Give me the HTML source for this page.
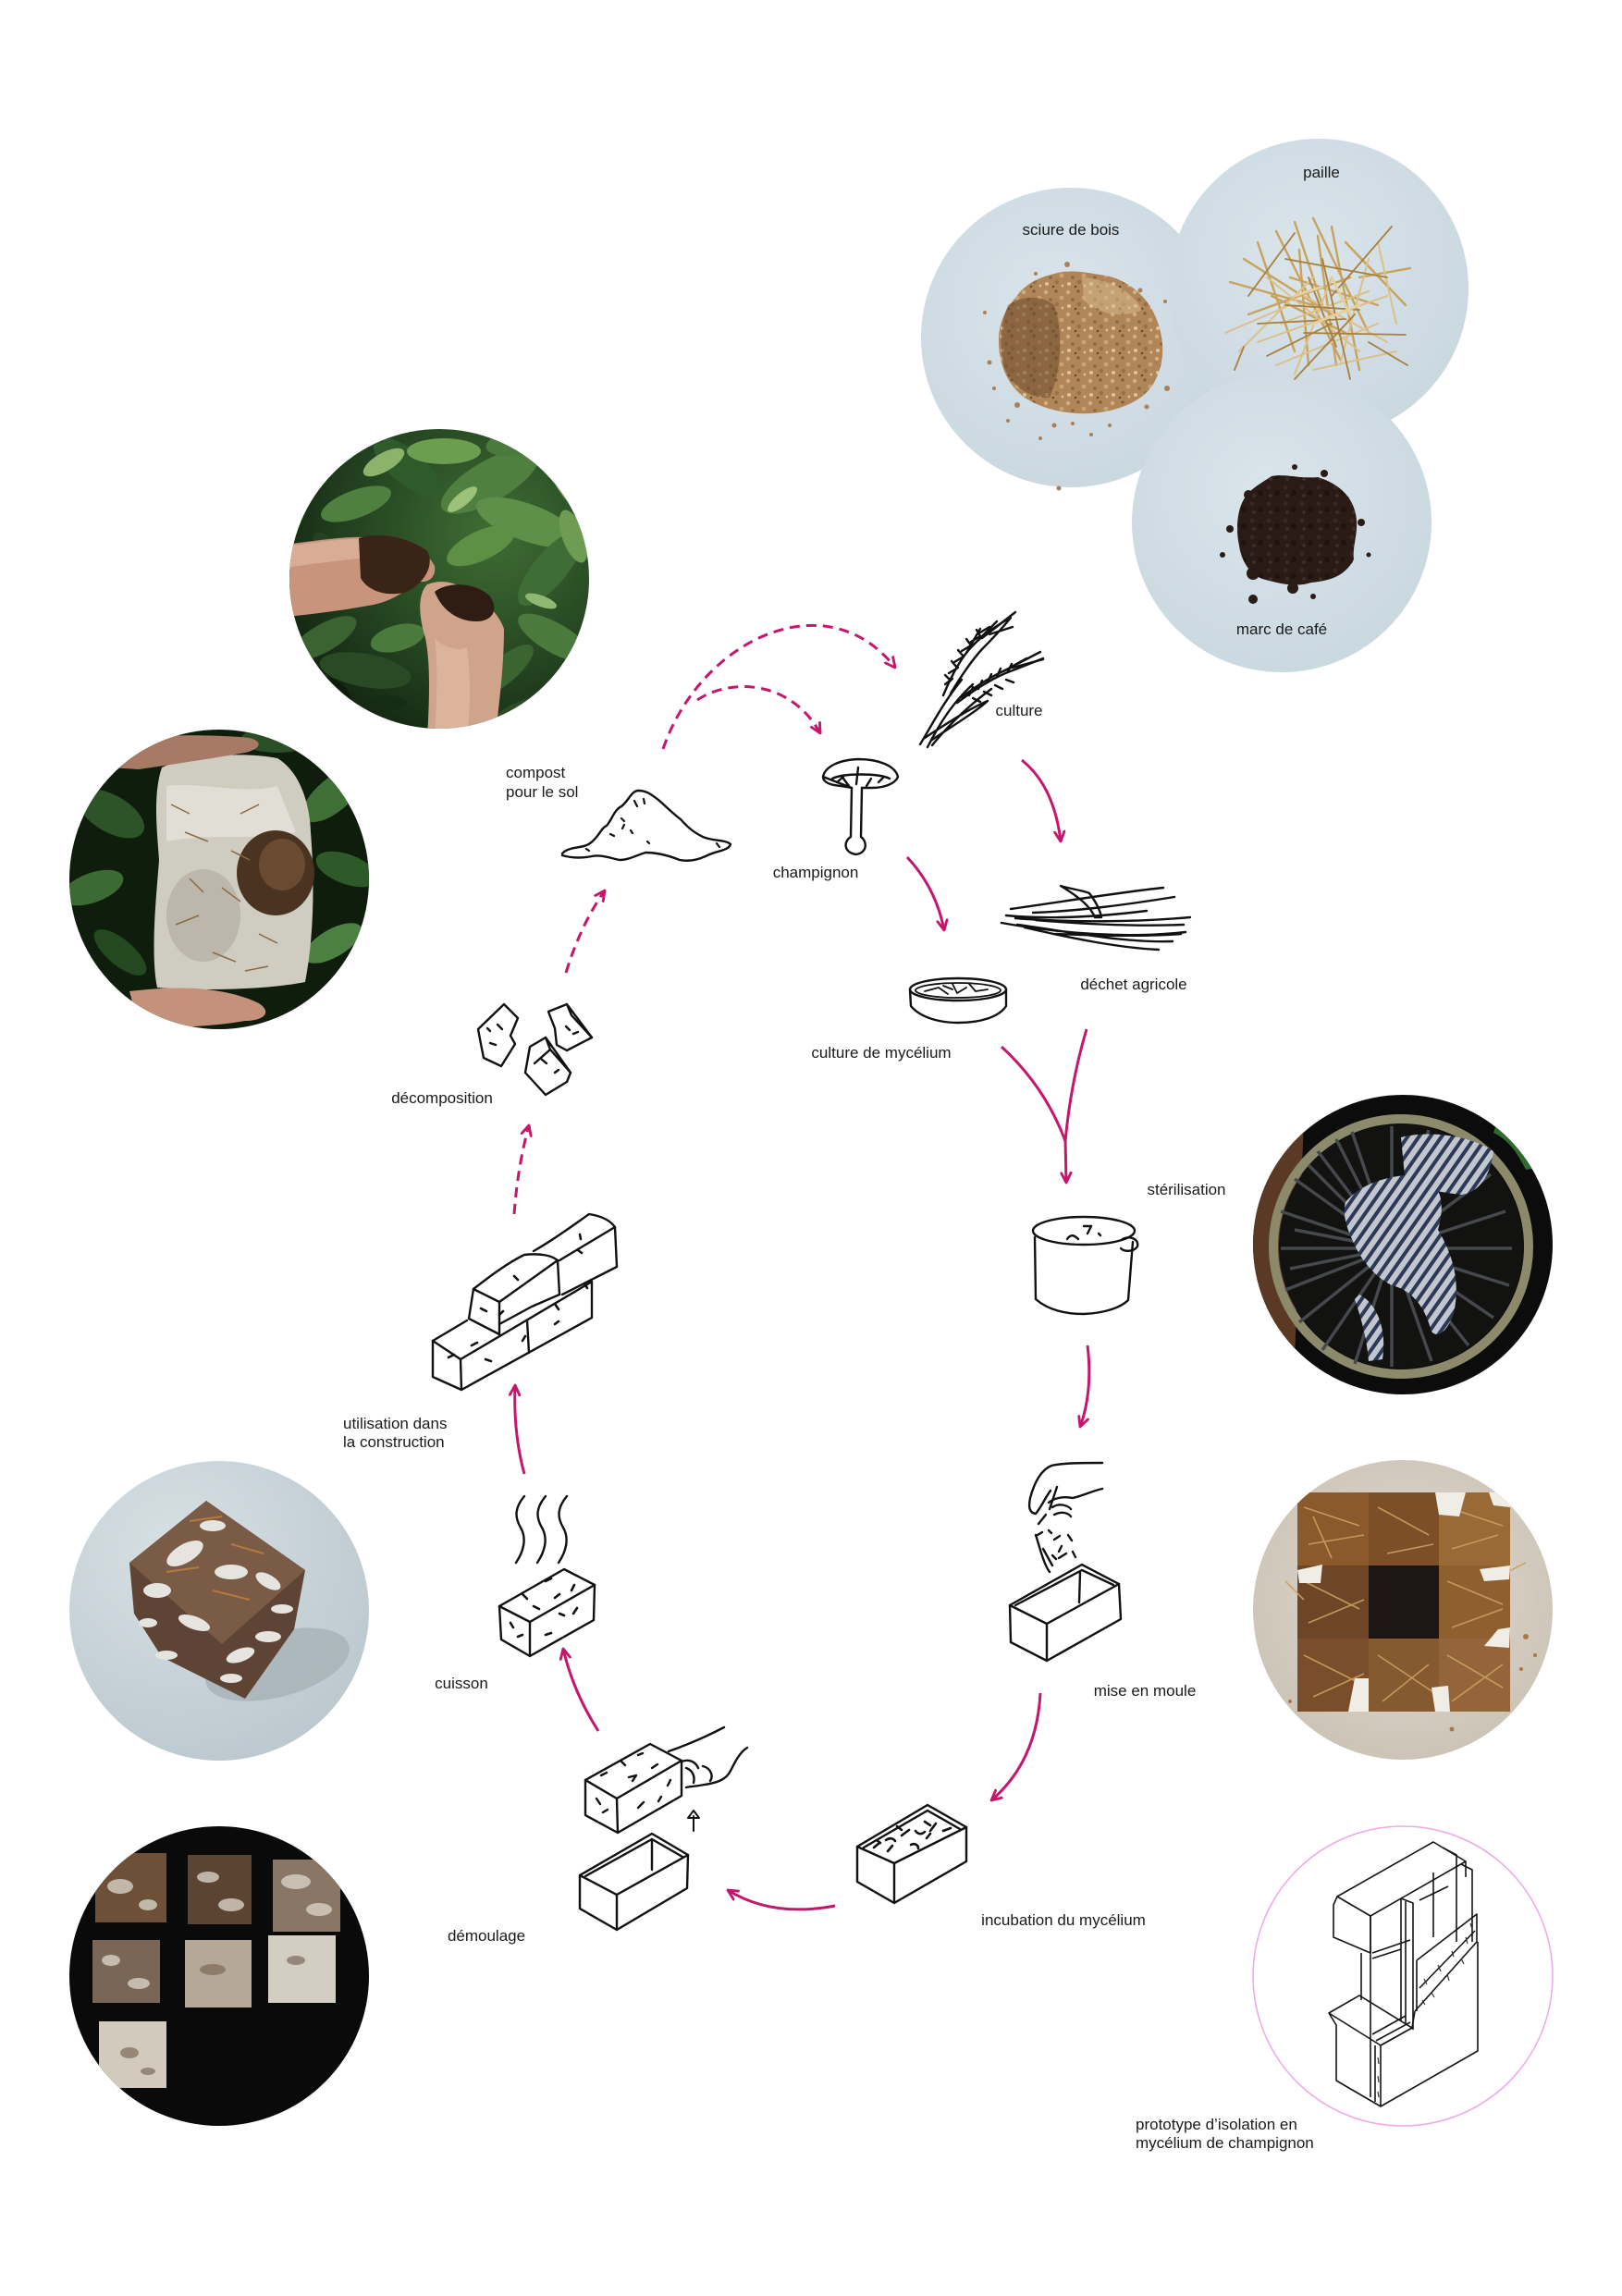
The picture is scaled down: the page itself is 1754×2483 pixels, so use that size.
<!DOCTYPE html>
<html><head><meta charset="utf-8"><style>
html,body{margin:0;padding:0;background:#fff;}
svg{display:block;}
text{font-family:"Liberation Sans",Arial,sans-serif;font-size:17px;fill:#1a1a1a;}
</style></head><body>
<svg width="1754" height="2483" viewBox="0 0 1754 2483" xmlns="http://www.w3.org/2000/svg">
<defs>
<marker id="ah" viewBox="0 0 10 10" refX="9" refY="5" markerWidth="13" markerHeight="13" orient="auto" markerUnits="userSpaceOnUse">
<path d="M0.5,0.8 L9,5 L0.5,9.2" fill="none" stroke="#c6166c" stroke-width="2.2" stroke-linecap="round" stroke-linejoin="round"/>
</marker>
<radialGradient id="blueg" cx="0.45" cy="0.4" r="0.65"><stop offset="0" stop-color="#dae5eb"/><stop offset="1" stop-color="#c9d7df"/></radialGradient>
<radialGradient id="cubeg" cx="0.35" cy="0.3" r="0.8"><stop offset="0" stop-color="#d7e0e4"/><stop offset="1" stop-color="#b9c6cd"/></radialGradient>
<radialGradient id="woodg" cx="0.5" cy="0.45" r="0.65"><stop offset="0" stop-color="#e2dcd2"/><stop offset="1" stop-color="#c7beb0"/></radialGradient>
<radialGradient id="leafg" cx="0.65" cy="0.35" r="0.75"><stop offset="0" stop-color="#3f6e34"/><stop offset="0.6" stop-color="#22401f"/><stop offset="1" stop-color="#0f1e0d"/></radialGradient>
<pattern id="stripes" width="10" height="10" patternUnits="userSpaceOnUse" patternTransform="rotate(35)">
<rect width="10" height="10" fill="#c2c7cf"/><rect width="4" height="10" fill="#2c3a57"/></pattern>
<pattern id="grain" width="24" height="24" patternUnits="userSpaceOnUse">
<rect width="24" height="24" fill="#b08659"/>
<circle cx="3" cy="4" r="2.2" fill="#d2ae82"/><circle cx="14" cy="3" r="1.6" fill="#7e5838"/><circle cx="20" cy="10" r="2.4" fill="#caa273"/><circle cx="8" cy="12" r="1.8" fill="#8d6643"/><circle cx="4" cy="19" r="2" fill="#e0c39c"/><circle cx="15" cy="17" r="2.3" fill="#9a7048"/><circle cx="21" cy="21" r="1.5" fill="#d8b88e"/><circle cx="11" cy="22" r="1.3" fill="#6e4a2e"/></pattern>
<pattern id="coffee" width="18" height="18" patternUnits="userSpaceOnUse">
<rect width="18" height="18" fill="#2a1b16"/><circle cx="4" cy="5" r="2.5" fill="#3a2820"/><circle cx="13" cy="11" r="3" fill="#1e130f"/><circle cx="6" cy="14" r="1.8" fill="#40302a"/></pattern>
<clipPath id="cA"><circle cx="475" cy="626" r="162"/></clipPath>
<clipPath id="cB"><circle cx="237" cy="951" r="162"/></clipPath>
<clipPath id="cC"><circle cx="1517" cy="1346" r="162"/></clipPath>
<clipPath id="cD"><circle cx="1517" cy="1741" r="162"/></clipPath>
<clipPath id="cE"><circle cx="237" cy="1742" r="162"/></clipPath>
<clipPath id="cF"><circle cx="237" cy="2137" r="162"/></clipPath>
</defs>

<rect width="1754" height="2483" fill="#fff"/>

<!-- ===== top right material circles ===== -->
<circle cx="1158" cy="365" r="162" fill="url(#blueg)"/>
<circle cx="1426" cy="312" r="162" fill="url(#blueg)"/>
<circle cx="1386" cy="565" r="162" fill="url(#blueg)"/>
<!-- sciure -->
<g>
<path d="M1098,322 C1110,305 1125,300 1140,296 C1160,290 1178,296 1196,298 C1215,302 1235,315 1246,335 C1258,358 1262,385 1250,410 C1240,432 1215,442 1190,446 C1160,450 1130,444 1108,430 C1088,415 1080,392 1080,368 C1080,348 1088,334 1098,322Z" fill="url(#grain)"/>
<path d="M1090,330 C1105,320 1125,318 1140,330 C1150,360 1148,400 1135,430 C1115,432 1095,418 1086,398 C1080,375 1082,350 1090,330Z" fill="#6f4a2d" opacity="0.55"/>
<path d="M1170,300 C1200,302 1225,315 1235,335 C1215,345 1190,340 1172,325Z" fill="#d9bb92" opacity="0.5"/>
<g fill="#a9805a">
<circle cx="1154" cy="286" r="3"/><circle cx="1120" cy="296" r="2"/><circle cx="1233" cy="314" r="2.5"/><circle cx="1260" cy="326" r="2"/><circle cx="1065" cy="338" r="2"/><circle cx="1070" cy="392" r="2.5"/><circle cx="1100" cy="438" r="3"/><circle cx="1140" cy="460" r="2.5"/><circle cx="1180" cy="470" r="2"/><circle cx="1125" cy="474" r="2"/><circle cx="1145" cy="528" r="2.5"/><circle cx="1200" cy="460" r="2"/><circle cx="1262" cy="420" r="3"/><circle cx="1250" cy="392" r="2"/><circle cx="1090" cy="455" r="2"/><circle cx="1075" cy="420" r="2"/><circle cx="1240" cy="440" r="2.5"/><circle cx="1160" cy="458" r="2"/></g>
</g>
<!-- paille -->
<g stroke-linecap="round" fill="none">
<g stroke="#c8a35e" stroke-width="2.4">
<line x1="1330" y1="305" x2="1420" y2="330"/><line x1="1345" y1="280" x2="1440" y2="340"/><line x1="1360" y1="262" x2="1400" y2="380"/><line x1="1380" y1="250" x2="1450" y2="390"/><line x1="1400" y1="240" x2="1430" y2="330"/><line x1="1420" y1="236" x2="1480" y2="360"/><line x1="1440" y1="245" x2="1470" y2="400"/><line x1="1455" y1="262" x2="1520" y2="330"/><line x1="1470" y1="300" x2="1525" y2="290"/><line x1="1350" y1="340" x2="1460" y2="300"/>
<line x1="1375" y1="320" x2="1455" y2="360"/><line x1="1395" y1="300" x2="1490" y2="330"/><line x1="1405" y1="270" x2="1415" y2="395"/><line x1="1425" y1="255" x2="1445" y2="395"/>
</g>
<g stroke="#dcc08a" stroke-width="2">
<line x1="1360" y1="370" x2="1500" y2="320"/><line x1="1380" y1="395" x2="1490" y2="350"/><line x1="1340" y1="380" x2="1420" y2="300"/><line x1="1400" y1="405" x2="1440" y2="300"/><line x1="1420" y1="400" x2="1510" y2="380"/><line x1="1450" y1="390" x2="1480" y2="280"/><line x1="1325" y1="360" x2="1395" y2="330"/><line x1="1490" y1="262" x2="1510" y2="350"/><line x1="1370" y1="300" x2="1470" y2="380"/><line x1="1385" y1="350" x2="1480" y2="315"/><line x1="1410" y1="320" x2="1500" y2="370"/>
</g>
<g stroke="#a7803f" stroke-width="1.8">
<line x1="1390" y1="280" x2="1500" y2="300"/><line x1="1410" y1="360" x2="1520" y2="362"/><line x1="1350" y1="320" x2="1400" y2="252"/><line x1="1430" y1="280" x2="1460" y2="410"/><line x1="1465" y1="340" x2="1400" y2="410"/><line x1="1480" y1="370" x2="1522" y2="395"/><line x1="1360" y1="350" x2="1455" y2="345"/><line x1="1440" y1="320" x2="1505" y2="245"/><line x1="1335" y1="400" x2="1345" y2="375"/><line x1="1390" y1="330" x2="1470" y2="335"/><line x1="1415" y1="300" x2="1445" y2="375"/><line x1="1370" y1="385" x2="1440" y2="350"/>
</g>
<g stroke="#e6cf9c" stroke-width="3">
<line x1="1440" y1="300" x2="1460" y2="340"/><line x1="1400" y1="320" x2="1430" y2="310"/><line x1="1420" y1="350" x2="1470" y2="330"/>
</g>
</g>
<!-- marc -->
<g fill="#2a1b16">
<path d="M1345,540 C1352,528 1365,522 1375,515 C1390,512 1405,518 1425,516 C1445,522 1462,535 1466,556 C1470,575 1462,590 1464,605 C1455,622 1440,628 1418,630 C1400,636 1380,630 1365,626 C1350,620 1342,605 1340,590 C1336,572 1338,552 1345,540Z" fill="url(#coffee)"/>
<circle cx="1355" cy="620" r="7"/><circle cx="1398" cy="636" r="6"/><circle cx="1458" cy="606" r="5"/><circle cx="1472" cy="565" r="4"/><circle cx="1330" cy="572" r="4"/><circle cx="1355" cy="648" r="5"/><circle cx="1420" cy="645" r="3"/><circle cx="1432" cy="512" r="4"/><circle cx="1400" cy="505" r="3"/><circle cx="1480" cy="600" r="2.5"/><circle cx="1322" cy="600" r="3"/><circle cx="1350" cy="535" r="5"/><circle cx="1455" cy="540" r="4"/>
</g>
<text x="1158" y="254" text-anchor="middle">sciure de bois</text>
<text x="1429" y="192" text-anchor="middle">paille</text>
<text x="1386" y="686" text-anchor="middle">marc de café</text>

<!-- ===== Photo A: hands with soil & leaves ===== -->
<g clip-path="url(#cA)">
<rect x="300" y="450" width="360" height="360" fill="url(#leafg)"/>
<g>
<ellipse cx="530" cy="520" rx="60" ry="22" transform="rotate(-30 530 520)" fill="#4f8040"/>
<ellipse cx="570" cy="565" rx="58" ry="20" transform="rotate(20 570 565)" fill="#5f904a"/>
<ellipse cx="595" cy="615" rx="50" ry="18" transform="rotate(-50 595 615)" fill="#3e6e35"/>
<ellipse cx="440" cy="505" rx="45" ry="18" transform="rotate(40 440 505)" fill="#2f5a2a"/>
<ellipse cx="385" cy="545" rx="40" ry="15" transform="rotate(-20 385 545)" fill="#4f8040"/>
<ellipse cx="600" cy="690" rx="45" ry="16" transform="rotate(30 600 690)" fill="#4a7a3c"/>
<ellipse cx="545" cy="725" rx="40" ry="14" transform="rotate(-40 545 725)" fill="#3b6530"/>
<ellipse cx="395" cy="725" rx="50" ry="18" transform="rotate(10 395 725)" fill="#2a4a25"/>
<ellipse cx="350" cy="690" rx="40" ry="15" transform="rotate(-30 350 690)" fill="#3a6331"/>
<ellipse cx="480" cy="488" rx="40" ry="14" fill="#6c9e50"/>
<ellipse cx="612" cy="520" rx="35" ry="12" transform="rotate(60 612 520)" fill="#7aa85a"/>
<ellipse cx="560" cy="478" rx="35" ry="14" transform="rotate(-10 560 478)" fill="#4a7a3c"/>
<ellipse cx="520" cy="590" rx="40" ry="16" transform="rotate(-25 520 590)" fill="#5d8f45"/>
<ellipse cx="620" cy="580" rx="30" ry="12" transform="rotate(70 620 580)" fill="#6e9c52"/>
<ellipse cx="430" cy="690" rx="30" ry="14" transform="rotate(-15 430 690)" fill="#4a7a3c"/>
<ellipse cx="360" cy="600" rx="30" ry="12" transform="rotate(50 360 600)" fill="#244220"/>
<ellipse cx="570" cy="770" rx="40" ry="14" transform="rotate(-20 570 770)" fill="#2c4c26"/>
<ellipse cx="340" cy="760" rx="40" ry="30" fill="#0e1a0c"/>
<ellipse cx="640" cy="740" rx="30" ry="40" fill="#142812"/>
<ellipse cx="415" cy="500" rx="25" ry="10" transform="rotate(-30 415 500)" fill="#8db36a"/>
<ellipse cx="500" cy="540" rx="20" ry="7" transform="rotate(-40 500 540)" fill="#9cc27a"/>
<ellipse cx="585" cy="650" rx="18" ry="6" transform="rotate(20 585 650)" fill="#8fb870"/>
<ellipse cx="420" cy="760" rx="20" ry="8" fill="#162c14"/>
</g>
<!-- left hand -->
<path d="M300,590 C340,585 380,578 410,582 C440,586 462,596 470,612 C472,625 462,632 450,628 C440,640 420,652 398,655 C370,660 340,664 300,668Z" fill="#c8957c"/>
<path d="M300,592 C340,587 380,580 410,584 C430,588 445,594 455,600 C420,600 380,604 300,615Z" fill="#e0b89f" opacity="0.7"/>
<path d="M388,582 C410,575 440,580 462,596 C470,610 460,630 440,640 C420,646 398,640 390,625Z" fill="#3a2418"/>
<!-- right hand -->
<path d="M462,800 C464,760 466,720 460,690 C452,664 452,642 462,632 C478,626 495,630 505,640 C520,648 538,660 545,680 C545,720 540,760 535,800Z" fill="#d0a38b"/>
<path d="M470,800 C472,760 474,720 470,690 C480,700 495,705 505,700 C510,740 508,770 505,800Z" fill="#e4bea6" opacity="0.6"/>
<path d="M470,640 C485,628 515,630 530,645 C540,660 532,672 515,672 C495,672 478,660 470,640Z" fill="#2f1d14"/>
</g>

<!-- ===== Photo B: mycelium block held ===== -->
<g clip-path="url(#cB)">
<rect x="70" y="785" width="340" height="335" fill="#0f1d0d"/>
<ellipse cx="120" cy="880" rx="40" ry="20" transform="rotate(30 120 880)" fill="#2c5428"/>
<ellipse cx="100" cy="960" rx="35" ry="16" transform="rotate(-20 100 960)" fill="#3b6a33"/>
<ellipse cx="130" cy="1030" rx="35" ry="14" transform="rotate(40 130 1030)" fill="#244820"/>
<ellipse cx="360" cy="860" rx="40" ry="18" transform="rotate(-40 360 860)" fill="#3e7036"/>
<ellipse cx="375" cy="940" rx="35" ry="16" transform="rotate(20 375 940)" fill="#2e5a2a"/>
<ellipse cx="360" cy="1020" rx="35" ry="15" transform="rotate(-30 360 1020)" fill="#4c8042"/>
<ellipse cx="300" cy="800" rx="40" ry="14" fill="#2a4e25"/>
<path d="M175,830 C200,818 260,812 300,820 C325,835 335,870 336,900 C340,950 340,1010 330,1062 C290,1070 220,1072 170,1068 C162,1030 170,960 172,930 C170,900 165,860 175,830Z" fill="#cfccc0"/>
<path d="M180,850 C220,845 260,860 300,850 L320,900 C280,910 230,900 180,910Z" fill="#e8e6de" opacity="0.7"/>
<ellipse cx="220" cy="990" rx="40" ry="50" fill="#a8a496" opacity="0.5"/>
<ellipse cx="298" cy="944" rx="42" ry="46" fill="#4b3322"/>
<ellipse cx="305" cy="935" rx="25" ry="28" fill="#6a4a30"/>
<g stroke="#8a6a45" stroke-width="1.5">
<line x1="200" y1="900" x2="225" y2="910"/><line x1="240" y1="960" x2="260" y2="975"/><line x1="190" y1="1000" x2="215" y2="990"/><line x1="230" y1="1030" x2="255" y2="1040"/><line x1="260" y1="880" x2="280" y2="870"/><line x1="205" y1="950" x2="220" y2="965"/><line x1="280" y1="1010" x2="300" y2="1020"/><line x1="250" y1="920" x2="270" y2="930"/><line x1="185" y1="870" x2="205" y2="880"/><line x1="265" y1="1050" x2="290" y2="1045"/></g>
<path d="M130,800 C170,794 230,794 270,798 C285,802 282,810 265,814 C230,820 190,826 150,832 L120,830Z" fill="#a87a66"/>
<path d="M140,1072 C190,1066 240,1066 280,1085 C295,1095 285,1104 265,1104 C230,1110 190,1112 150,1110Z" fill="#c4927b"/>
</g>

<!-- ===== Photo C: sterilisation ===== -->
<g clip-path="url(#cC)">
<rect x="1350" y="1180" width="340" height="335" fill="#0b0c0b"/>
<path d="M1350,1200 L1410,1210 L1400,1470 L1350,1480Z" fill="#5a3a25"/>
<path d="M1620,1210 C1645,1215 1670,1235 1680,1260 L1650,1265 C1640,1245 1630,1232 1615,1225Z" fill="#2f6b2e"/>
<path d="M1360,1390 C1365,1420 1375,1440 1390,1460 L1375,1470 C1362,1450 1355,1420 1352,1395Z" fill="#2f6b2e"/>
<circle cx="1515" cy="1348" r="138" fill="none" stroke="#8d8a6c" stroke-width="10"/>
<circle cx="1515" cy="1348" r="132" fill="#121310"/>
<g stroke="#45494e" stroke-width="3.5">
<line x1="1505" y1="1350" x2="1635" y2="1350"/><line x1="1505" y1="1350" x2="1628" y2="1310"/><line x1="1505" y1="1350" x2="1612" y2="1270"/><line x1="1505" y1="1350" x2="1585" y2="1240"/><line x1="1505" y1="1350" x2="1545" y2="1222"/><line x1="1505" y1="1350" x2="1505" y2="1218"/><line x1="1505" y1="1350" x2="1462" y2="1224"/><line x1="1505" y1="1350" x2="1425" y2="1245"/><line x1="1505" y1="1350" x2="1400" y2="1275"/><line x1="1505" y1="1350" x2="1385" y2="1310"/><line x1="1505" y1="1350" x2="1385" y2="1350"/><line x1="1505" y1="1350" x2="1390" y2="1395"/><line x1="1505" y1="1350" x2="1405" y2="1430"/><line x1="1505" y1="1350" x2="1430" y2="1460"/><line x1="1505" y1="1350" x2="1465" y2="1475"/><line x1="1505" y1="1350" x2="1505" y2="1478"/><line x1="1505" y1="1350" x2="1548" y2="1472"/><line x1="1505" y1="1350" x2="1588" y2="1455"/><line x1="1505" y1="1350" x2="1615" y2="1425"/><line x1="1505" y1="1350" x2="1632" y2="1390"/>
<line x1="1505" y1="1350" x2="1400" y2="1330" /><line x1="1505" y1="1350" x2="1395" y2="1372"/><line x1="1505" y1="1350" x2="1415" y2="1260"/><line x1="1505" y1="1350" x2="1445" y2="1232"/></g>
<path d="M1515,1230 C1545,1222 1590,1228 1615,1245 C1612,1270 1600,1290 1580,1292 C1560,1290 1540,1285 1520,1282Z" fill="url(#stripes)"/>
<path d="M1455,1300 C1470,1282 1495,1272 1530,1270 C1555,1275 1565,1295 1555,1330 C1570,1355 1580,1385 1572,1420 C1565,1440 1555,1448 1548,1440 C1540,1410 1525,1395 1505,1390 C1485,1380 1470,1360 1462,1340 C1455,1325 1452,1312 1455,1300Z" fill="url(#stripes)"/>
<path d="M1470,1400 C1490,1410 1500,1440 1495,1470 L1480,1472 C1478,1445 1470,1420 1465,1405Z" fill="url(#stripes)"/>
</g>

<!-- ===== Photo D: mise en moule ===== -->
<g clip-path="url(#cD)">
<rect x="1350" y="1575" width="340" height="335" fill="url(#woodg)"/>
<g>
<rect x="1403" y="1614" width="77" height="79" fill="#8a5a2c"/>
<rect x="1480" y="1614" width="76" height="79" fill="#7d4f28"/>
<rect x="1556" y="1614" width="77" height="79" fill="#9a6a36"/>
<rect x="1403" y="1693" width="77" height="79" fill="#6e4526"/>
<rect x="1480" y="1693" width="76" height="79" fill="#1c1714"/>
<rect x="1556" y="1693" width="77" height="79" fill="#8f602f"/>
<rect x="1403" y="1772" width="77" height="79" fill="#7a4e2a"/>
<rect x="1480" y="1772" width="76" height="79" fill="#865a30"/>
<rect x="1556" y="1772" width="77" height="79" fill="#94653a"/>
</g>
<g stroke="#c9a060" stroke-width="1.6" opacity="0.9">
<line x1="1410" y1="1630" x2="1470" y2="1650"/><line x1="1415" y1="1670" x2="1475" y2="1660"/><line x1="1420" y1="1640" x2="1440" y2="1685"/><line x1="1490" y1="1630" x2="1545" y2="1660"/><line x1="1500" y1="1680" x2="1550" y2="1670"/><line x1="1565" y1="1630" x2="1625" y2="1650"/><line x1="1570" y1="1675" x2="1620" y2="1660"/><line x1="1410" y1="1710" x2="1470" y2="1740"/><line x1="1415" y1="1755" x2="1475" y2="1730"/><line x1="1565" y1="1710" x2="1625" y2="1735"/><line x1="1570" y1="1760" x2="1625" y2="1740"/><line x1="1410" y1="1790" x2="1470" y2="1820"/><line x1="1420" y1="1835" x2="1475" y2="1810"/><line x1="1490" y1="1790" x2="1550" y2="1830"/><line x1="1495" y1="1840" x2="1545" y2="1800"/><line x1="1565" y1="1790" x2="1625" y2="1825"/><line x1="1570" y1="1840" x2="1625" y2="1800"/><line x1="1390" y1="1710" x2="1410" y2="1730"/><line x1="1630" y1="1700" x2="1650" y2="1690"/>
</g>
<g fill="#f0ede6">
<path d="M1552,1614 L1585,1614 L1578,1640 L1556,1638Z"/><path d="M1403,1698 L1430,1692 L1428,1712 L1405,1712Z"/><path d="M1600,1697 L1633,1693 L1632,1708 L1605,1710Z"/><path d="M1620,1762 L1633,1760 L1632,1782 L1605,1780Z"/><path d="M1465,1815 L1480,1815 L1480,1851 L1458,1851Z"/><path d="M1548,1825 L1566,1823 L1568,1851 L1552,1851Z"/><path d="M1610,1614 L1633,1614 L1633,1630 L1615,1628Z"/></g>
<g fill="#a87848"><circle cx="1650" cy="1770" r="3"/><circle cx="1660" cy="1790" r="2"/><circle cx="1645" cy="1805" r="2"/><circle cx="1395" cy="1840" r="2"/><circle cx="1570" cy="1870" r="2.5"/></g>
</g>

<!-- ===== Photo E: cube ===== -->
<g clip-path="url(#cE)">
<rect x="70" y="1575" width="340" height="335" fill="url(#cubeg)"/>
<ellipse cx="300" cy="1800" rx="80" ry="35" transform="rotate(-15 300 1800)" fill="#a6b1b7" opacity="0.8"/>
<path d="M140,1690 L223,1623 L330,1698 L318,1762 L265,1837 L175,1792 L145,1745Z" fill="#5e4434"/>
<path d="M140,1690 L223,1623 L330,1698 L240,1778Z" fill="#7a5c46"/>
<g fill="#e6e4de">
<ellipse cx="200" cy="1680" rx="22" ry="10" transform="rotate(-30 200 1680)"/><ellipse cx="250" cy="1700" rx="18" ry="8"/><ellipse cx="290" cy="1710" rx="15" ry="7" transform="rotate(30 290 1710)"/><ellipse cx="230" cy="1650" rx="14" ry="6"/><ellipse cx="170" cy="1720" rx="15" ry="8"/><ellipse cx="210" cy="1755" rx="18" ry="7" transform="rotate(20 210 1755)"/><ellipse cx="260" cy="1790" rx="16" ry="7" transform="rotate(-20 260 1790)"/><ellipse cx="290" cy="1770" rx="14" ry="6"/><ellipse cx="180" cy="1790" rx="12" ry="5"/><ellipse cx="250" cy="1815" rx="12" ry="5"/><ellipse cx="305" cy="1740" rx="12" ry="5"/><ellipse cx="160" cy="1755" rx="10" ry="5"/></g>
<g stroke="#b5793e" stroke-width="2"><line x1="205" y1="1645" x2="240" y2="1640"/><line x1="250" y1="1670" x2="285" y2="1680"/><line x1="180" y1="1700" x2="215" y2="1695"/><line x1="230" y1="1720" x2="270" y2="1730"/></g>
</g>

<!-- ===== Photo F: démoulage (black) ===== -->
<g clip-path="url(#cF)">
<rect x="70" y="1970" width="340" height="335" fill="#0a0a0a"/>
<rect x="103" y="2004" width="77" height="75" fill="#6e5038"/>
<rect x="203" y="2006" width="69" height="75" fill="#5c4433"/>
<rect x="295" y="2011" width="73" height="78" fill="#8a7664"/>
<rect x="100" y="2098" width="73" height="68" fill="#7a6656"/>
<rect x="200" y="2098" width="72" height="73" fill="#b5a898"/>
<rect x="290" y="2093" width="73" height="73" fill="#d4cec2"/>
<rect x="107" y="2186" width="73" height="72" fill="#d2cbbd"/>
<g fill="#d8d2c6" opacity="0.8">
<ellipse cx="130" cy="2040" rx="14" ry="8"/><ellipse cx="160" cy="2060" rx="10" ry="6"/><ellipse cx="225" cy="2030" rx="12" ry="6"/><ellipse cx="250" cy="2060" rx="14" ry="7"/><ellipse cx="320" cy="2035" rx="16" ry="8"/><ellipse cx="345" cy="2065" rx="14" ry="7"/><ellipse cx="120" cy="2120" rx="10" ry="6"/><ellipse cx="150" cy="2145" rx="12" ry="6"/></g>
<g fill="#7d6a58" opacity="0.7"><ellipse cx="230" cy="2130" rx="14" ry="6"/><ellipse cx="320" cy="2120" rx="10" ry="5"/><ellipse cx="140" cy="2220" rx="10" ry="6"/><ellipse cx="160" cy="2240" rx="8" ry="4"/></g>
</g>

<!-- ===== Prototype circle & drawing ===== -->
<circle cx="1517" cy="2137" r="162" fill="none" stroke="#efa6ea" stroke-width="1.5"/>
<g fill="none" stroke="#151515" stroke-width="1.6" stroke-linejoin="round">
<!-- top block -->
<path d="M1446,2051 L1550,1992 L1585,2013 L1482,2072 Z"/>
<path d="M1446,2051 L1442,2060 L1442,2095 L1482,2112 L1482,2072"/>
<path d="M1585,2013 L1585,2030"/>
<path d="M1560,1998 L1575,2006 L1575,2100"/>
<path d="M1580,2016 L1592,2022 L1592,2100"/>
<path d="M1550,2025 L1550,2095"/>
<path d="M1535,2055 L1566,2040"/>
<!-- tall vertical -->
<path d="M1482,2072 L1482,2268"/>
<!-- window frame -->
<path d="M1515,2053 L1528,2058 L1528,2195"/>
<path d="M1515,2053 L1515,2185"/>
<path d="M1520,2056 L1520,2188"/>
<path d="M1484,2112 L1525,2098"/>
<path d="M1484,2118 L1515,2108"/>
<path d="M1472,2112 L1472,2163"/>
<!-- insulation band -->
<path d="M1532,2120 L1597,2070 L1597,2100 L1530,2175"/>
<path d="M1532,2120 L1532,2175"/>
<path d="M1535,2150 L1595,2088"/>
<!-- lower right block -->
<path d="M1598,2100 L1598,2218 L1493,2278 L1493,2212 L1527,2193"/>
<path d="M1527,2193 L1530,2175"/>
<!-- ledge -->
<path d="M1437,2177 L1470,2158 L1527,2193 L1493,2212 Z"/>
<path d="M1437,2177 L1445,2190 L1445,2250 L1493,2278"/>
<path d="M1488,2207 L1525,2187"/>
<path d="M1487,2212 L1487,2273"/>
<path d="M1484,2200 L1520,2180"/>
</g>
<g stroke="#333" stroke-width="1.2">
<line x1="1540" y1="2140" x2="1543" y2="2146"/><line x1="1555" y1="2125" x2="1558" y2="2132"/><line x1="1570" y1="2110" x2="1572" y2="2116"/><line x1="1585" y1="2095" x2="1587" y2="2102"/><line x1="1548" y1="2155" x2="1551" y2="2160"/><line x1="1565" y1="2135" x2="1567" y2="2142"/><line x1="1580" y1="2118" x2="1583" y2="2124"/><line x1="1538" y1="2163" x2="1541" y2="2168"/><line x1="1590" y1="2080" x2="1592" y2="2086"/><line x1="1490" y1="2225" x2="1491" y2="2232"/><line x1="1490" y1="2245" x2="1491" y2="2252"/><line x1="1490" y1="2262" x2="1491" y2="2268"/></g>

<!-- ===== Labels ===== -->
<text x="547" y="841">compost</text>
<text x="547" y="862">pour le sol</text>
<text x="1102" y="774" text-anchor="middle">culture</text>
<text x="882" y="949" text-anchor="middle">champignon</text>
<text x="1226" y="1070" text-anchor="middle">déchet agricole</text>
<text x="953" y="1144" text-anchor="middle">culture de mycélium</text>
<text x="1283" y="1292" text-anchor="middle">stérilisation</text>
<text x="1238" y="1834" text-anchor="middle">mise en moule</text>
<text x="1150" y="2082" text-anchor="middle">incubation du mycélium</text>
<text x="526" y="2099" text-anchor="middle">démoulage</text>
<text x="499" y="1826" text-anchor="middle">cuisson</text>
<text x="371" y="1545">utilisation dans</text>
<text x="371" y="1565">la construction</text>
<text x="478" y="1193" text-anchor="middle">décomposition</text>
<text x="1228" y="2303">prototype d’isolation en</text>
<text x="1228" y="2323">mycélium de champignon</text>

<!-- ===== Arrows ===== -->
<g fill="none" stroke="#c6166c" stroke-width="3" stroke-linecap="butt" marker-end="url(#ah)">
<path d="M717,810 C758,690 895,628 968,722" stroke-dasharray="11 7"/>
<path d="M754,757 C790,733 855,735 887,793" stroke-dasharray="11 7"/>
<path d="M1105,822 Q1140,850 1147,910"/>
<path d="M981,927 Q1012,960 1021,1006"/>
<path d="M1152,1232 L1153,1279"/>
<path d="M1176,1455 Q1182,1505 1168,1543"/>
<path d="M1125,1831 Q1121,1905 1072,1947"/>
<path d="M903,2061 Q835,2074 787,2044"/>
<path d="M647,1872 Q620,1830 609,1783"/>
<path d="M567,1594 Q555,1550 557,1498"/>
<path d="M556,1313 Q560,1260 572,1217" stroke-dasharray="11 7"/>
<path d="M612,1052 Q628,1000 654,963" stroke-dasharray="11 7"/>
</g>
<g fill="none" stroke="#c6166c" stroke-width="3">
<path d="M1083,1132 Q1130,1175 1152,1234"/>
<path d="M1175,1113 Q1158,1170 1152,1234"/>
</g>

<!-- ===== Sketches ===== -->
<g fill="none" stroke="#111" stroke-width="2.4" stroke-linecap="round" stroke-linejoin="round">
<!-- compost pile -->
<path d="M608,923 C615,915 630,918 638,912 C648,905 650,895 656,893 C662,886 664,876 672,872 C680,866 682,856 690,855 C700,855 705,860 712,865 C720,872 728,880 736,886 C744,895 750,900 760,905 C772,910 785,908 790,913 C788,920 775,920 765,925 C755,930 745,932 735,930 C725,926 712,922 698,922 C688,925 680,930 670,930 C660,928 650,924 640,926 C630,928 618,928 608,925"/>
<path d="M686,866 l3,6 M696,864 l1,5 M672,885 l3,3 M675,892 l-2,4 M660,902 l4,2 M682,898 l2,3 M700,910 l2,2 M775,912 l3,4 M634,918 l3,2" stroke-width="2.2"/>
<!-- mushroom -->
<path d="M890,840 C892,830 905,822 928,821 C950,821 968,828 971,840 C968,848 955,852 943,852 L932,852 M921,852 L909,850 C898,849 890,846 890,840Z"/>
<path d="M921,852 L920,905 C912,910 912,922 926,924 C938,922 938,910 931,905 L932,852"/>
<path d="M900,842 C912,836 950,836 962,842 M928,830 L926,848 M912,842 L918,850 M942,842 L937,850 M905,846 L912,840 M950,846 L955,841"/>
<!-- wheat -->
<path d="M995,805 C1010,780 1020,760 1040,735 M1003,808 C1015,785 1028,762 1052,740 M1008,806 C1025,785 1045,765 1072,745"/>
<path d="M1000,798 C1020,785 1045,768 1068,758 C1055,770 1030,785 1008,800"/>
<path d="M1020,752 C1030,728 1040,710 1052,698 C1064,686 1078,676 1093,668 M1028,750 C1040,730 1050,715 1062,702 C1070,694 1080,684 1093,668"/>
<path d="M1022,740 l8,-6 M1026,728 l10,-6 M1032,716 l10,-6 M1040,704 l10,-6 M1050,694 l10,-6 M1060,684 l10,-6 M1028,736 l-6,-6 M1035,722 l-6,-7 M1042,710 l-6,-7 M1050,698 l-5,-7 M1060,688 l-4,-7"/>
<path d="M1052,698 L1078,672 M1062,690 L1098,662 M1045,706 L1060,680 M1070,686 L1095,678"/>
<path d="M1035,760 C1055,745 1075,732 1095,725 C1108,720 1118,716 1128,712 M1040,754 C1058,740 1078,728 1098,720"/>
<path d="M1048,752 l4,-9 M1058,745 l4,-9 M1068,738 l4,-9 M1078,732 l4,-9 M1090,726 l4,-8 M1052,755 l8,4 M1064,748 l8,4 M1076,741 l8,4 M1088,735 l8,3"/>
<path d="M1095,722 L1128,713 M1100,718 L1125,705 M1085,726 L1110,712"/>
<!-- straw -->
<path d="M1093,983 C1150,975 1210,965 1258,960 M1083,998 C1150,1010 1220,1015 1282,1008 M1098,993 C1160,998 1230,997 1287,992 M1117,987 C1170,985 1220,978 1270,970 M1108,1003 C1160,1015 1210,1025 1253,1027 M1142,1010 C1190,1012 1240,1013 1277,1010 M1088,990 C1140,995 1200,990 1240,985 M1100,1000 C1160,1008 1215,1020 1268,1018 M1120,995 C1180,1000 1230,1002 1280,1000"/>
<path d="M1147,958 C1160,962 1172,963 1178,966 C1185,975 1190,985 1191,992 L1184,992 C1180,982 1170,972 1147,958Z"/>
<!-- petri dish -->
<ellipse cx="1036" cy="1070" rx="52" ry="12"/>
<ellipse cx="1036" cy="1071" rx="46" ry="8" stroke-width="1.8"/>
<path d="M984,1070 L985,1088 C995,1100 1015,1106 1036,1106 C1060,1106 1080,1100 1088,1088 L1088,1070"/>
<path d="M1000,1072 L1015,1068 L1025,1075 M1030,1064 L1035,1074 L1045,1068 M1048,1064 L1055,1072 L1068,1070 M1020,1066 L1030,1070" stroke-width="1.8"/>
<!-- pot -->
<ellipse cx="1172" cy="1331" rx="55" ry="15"/>
<path d="M1119,1338 L1120,1405 C1135,1418 1155,1421 1172,1421 C1195,1420 1212,1414 1220,1406 L1225,1343"/>
<path d="M1214,1340 C1222,1336 1232,1340 1230,1348 C1226,1354 1216,1354 1212,1350"/>
<path d="M1154,1340 C1158,1334 1162,1336 1166,1340 M1172,1326 L1180,1326 L1176,1334 M1188,1334 l2,2"/>
<!-- hand sprinkling -->
<path d="M1192,1582 C1170,1582 1150,1582 1137,1585 C1125,1590 1118,1605 1114,1620 C1112,1630 1113,1636 1120,1637 C1126,1630 1130,1620 1136,1612 M1134,1625 C1140,1620 1150,1618 1160,1620 C1170,1618 1182,1612 1192,1610"/>
<path d="M1138,1630 C1145,1625 1155,1628 1158,1632 M1140,1638 C1148,1634 1155,1636 1158,1640 M1143,1608 L1135,1632"/>
<path d="M1123,1648 l8,-10 M1134,1655 l3,3 M1122,1660 l5,-3 M1140,1665 l6,-4 M1155,1660 l4,6 M1148,1672 l-3,6 M1128,1675 l10,18 M1120,1660 C1125,1675 1128,1690 1135,1700 M1145,1685 l8,-5 M1160,1678 l3,6 M1138,1682 l4,4"/>
<!-- mold -->
<path d="M1092,1736 L1170,1692 L1210,1713 L1132,1756 Z"/>
<path d="M1098,1736 L1170,1698 L1204,1714"/>
<path d="M1168,1701 L1167,1733"/>
<path d="M1092,1736 L1093,1776 L1132,1796 L1132,1756 M1132,1796 L1212,1751 L1210,1713"/>
<!-- incubation box -->
<path d="M927,1997 L1003,1952 L1045,1976 L967,2015 Z"/>
<path d="M934,1998 L1003,1958 L1038,1978"/>
<path d="M927,1997 L927,2035 L967,2058 L967,2015 M967,2058 L1045,2013 L1045,1976"/>
<path d="M945,1998 l6,-5 M958,1990 c4,-3 8,-2 10,1 M975,1985 l8,-6 M990,1980 c3,4 7,4 10,1 M1000,1970 l6,4 M1012,1972 l-6,8 M1020,1980 l8,-3 M960,2002 l5,-6 M985,1995 c4,-2 8,0 8,4 M970,1975 l5,4 M1002,1988 l4,-5 M948,1990 l4,3" stroke-width="2.6"/>
<!-- démoulage block -->
<path d="M633,1925 L703,1886 L737,1904 L667,1945 Z"/>
<path d="M633,1925 L633,1963 L668,1982 L667,1945 M668,1982 L737,1942 L737,1904"/>
<path d="M650,1920 l6,-3 M672,1905 l4,4 M690,1898 l5,-2 M680,1922 l8,-2 l-4,6 M705,1912 l6,-4 M645,1945 l4,6 M652,1960 l5,-3 M690,1955 l6,-6 M712,1948 l3,-5 M725,1925 l-3,6" stroke-width="2.4"/>
<path d="M723,1894 C740,1888 760,1880 783,1868 M808,1890 C800,1895 795,1905 790,1915 C785,1925 775,1928 762,1930 C752,1932 745,1932 742,1933 M737,1905 C745,1902 752,1905 755,1912 M742,1912 C748,1914 752,1920 750,1928 M760,1910 C768,1912 772,1920 768,1926"/>
<path d="M750,1980 L750,1964 M744,1966 L750,1958 L756,1966 Z" stroke-width="2"/>
<!-- démoulage mold -->
<path d="M627,2028 L705,1983 L744,2006 L667,2049 Z"/>
<path d="M633,2029 L705,1989 L738,2008"/>
<path d="M705,1989 L705,2022"/>
<path d="M627,2028 L627,2064 L667,2087 L667,2049 M667,2087 L743,2042 L744,2006"/>
<!-- cuisson -->
<path d="M540,1737 L610,1697 L643,1714 L573,1754 Z"/>
<path d="M540,1737 L542,1773 L573,1791 L573,1754 M573,1791 L642,1752 L643,1714"/>
<path d="M565,1724 l5,5 M590,1710 l6,-3 M600,1728 l5,-4 M618,1720 l3,-6 M552,1755 l3,5 M560,1770 l5,-2 M590,1768 l6,-2 M620,1745 l4,-6 M605,1745 l5,2 M577,1737 l6,3" stroke-width="2.6"/>
<path d="M567,1618 C557,1630 556,1640 563,1652 C570,1664 566,1678 558,1690 M590,1618 C580,1630 579,1640 586,1652 C593,1664 589,1678 581,1690 M613,1618 C603,1630 602,1640 609,1652 C616,1664 612,1678 604,1690"/>
<!-- construction -->
<path d="M468,1450 L498,1470 L640,1386 L640,1425 L499,1503 L468,1489 Z"/>
<path d="M498,1470 L499,1503"/>
<path d="M570,1428 L572,1463"/>
<path d="M468,1450 L505,1428"/>
<path d="M512,1394 L540,1408 L540,1443 L507,1426 Z"/>
<path d="M512,1394 C530,1380 550,1365 567,1357 C585,1355 597,1358 603,1363 L540,1408"/>
<path d="M603,1363 L605,1400"/>
<path d="M577,1353 C600,1340 620,1325 637,1313 C650,1315 660,1320 665,1327 L605,1363"/>
<path d="M665,1327 L667,1370 L608,1400"/>
<path d="M540,1432 L575,1413 L605,1400"/>
<path d="M556,1380 l4,4 M540,1422 l4,-4 M520,1415 l6,3 M600,1410 l4,6 M632,1388 l3,5 M625,1352 l4,3 M627,1335 l1,5 M510,1455 l6,-3 M525,1470 l6,2 M565,1450 l3,-5 M600,1432 l4,-3 M485,1468 l6,-3" stroke-width="2.6"/>
<!-- decomposition -->
<path d="M517,1113 L545,1086 L560,1101 L552,1120 L557,1129 L542,1153 L523,1144 L520,1129 Z"/>
<path d="M527,1112 l3,3 M538,1108 l5,5 M530,1128 l6,2"/>
<path d="M573,1132 L590,1122 L617,1160 L613,1170 L590,1184 L568,1160 Z"/>
<path d="M590,1122 L595,1135 L617,1160 M595,1135 L578,1150 M585,1145 l6,5 M600,1160 l4,-3"/>
<path d="M593,1094 L613,1086 L640,1122 L613,1136 L602,1130 L600,1112 Z"/>
<path d="M613,1086 L618,1098 L640,1122 M612,1110 l4,4 M620,1118 l5,-2"/>
</g>
</svg>
</body></html>
